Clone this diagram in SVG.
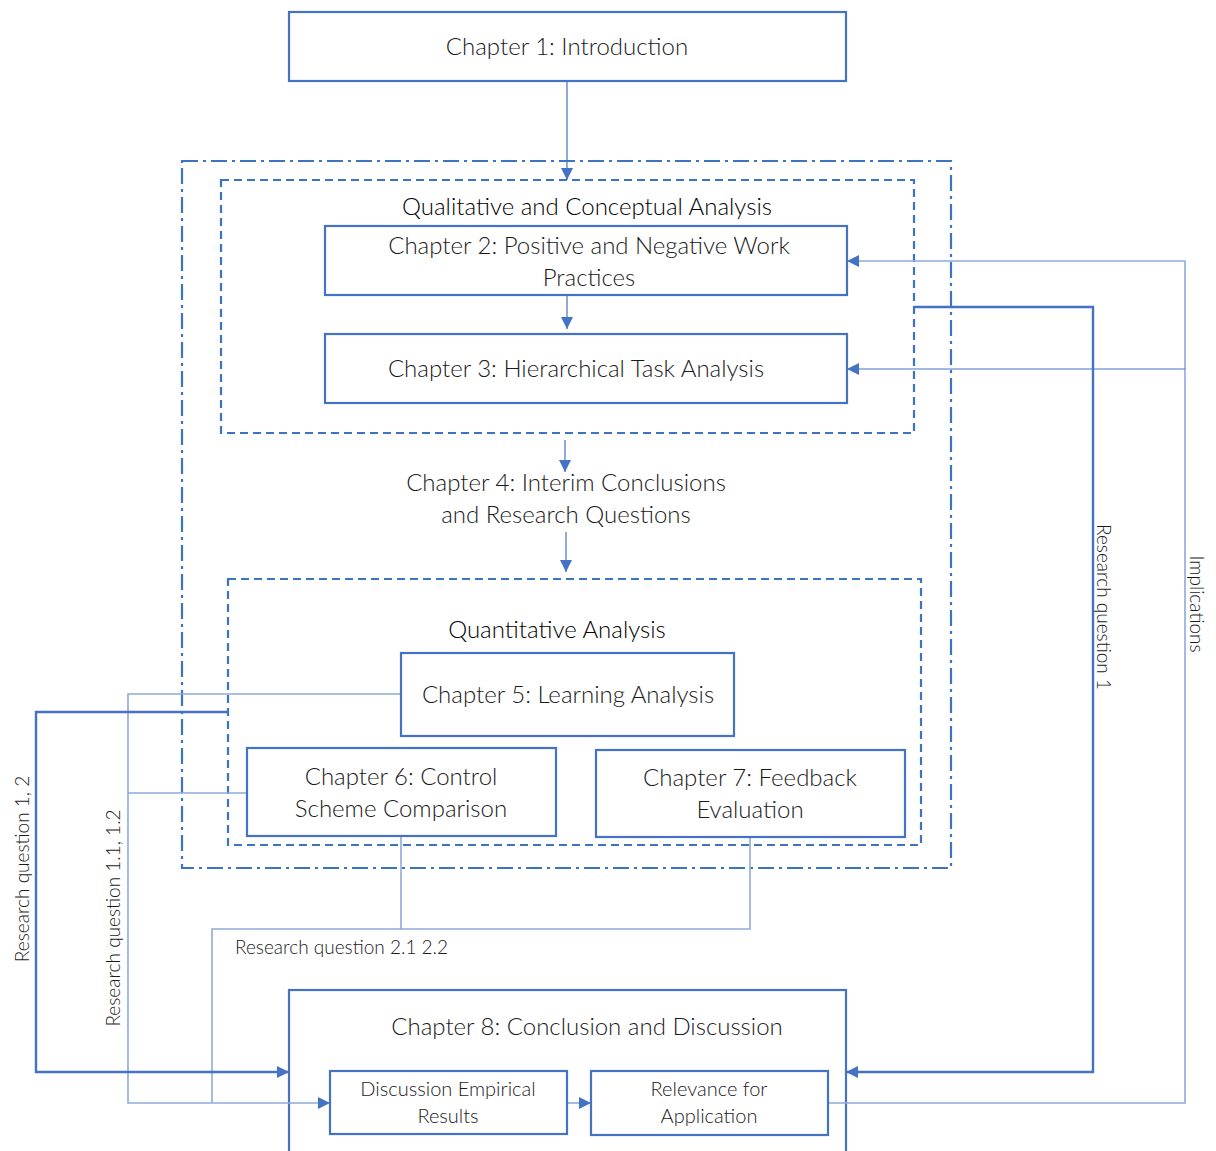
<svg xmlns="http://www.w3.org/2000/svg" width="1216" height="1151" viewBox="0 0 1216 1151">
  <style>
    .box { fill: #ffffff; stroke: #4472c4; stroke-width: 2.2; }
    .frame { fill: none; stroke: #4472c4; stroke-width: 2.2; }
    .dash { fill: none; stroke: #3d74c2; stroke-width: 2.2; stroke-dasharray: 8 5; }
    .dashdot { fill: none; stroke: #3d74c2; stroke-width: 2.2; stroke-dasharray: 16 5 3 5; }
    .t { font-family: Lato, "Open Sans", sans-serif; font-weight: 300; fill: #1a1a1a; text-anchor: middle; }
    .lg { font-size: 24px; }
    .sm { font-size: 20px; }
    .hd { font-size: 24px; fill: #000; }
    .lbl { font-family: Lato, "Open Sans", sans-serif; font-weight: 300; font-size: 19px; fill: #1a1a1a; }
    .thin { fill: none; stroke: #4472c4; stroke-width: 1.2; }
    .light { fill: none; stroke: #8eaadb; stroke-width: 1.6; }
    .thick { fill: none; stroke: #4472c4; stroke-width: 2.4; }
  </style>
  <defs>
    <marker id="ah" viewBox="0 0 10 10" refX="10" refY="5" markerUnits="userSpaceOnUse" markerWidth="13" markerHeight="12" orient="auto">
      <path d="M0,0 L10,5 L0,10 z" fill="#4472c4"/>
    </marker>
  </defs>

  <!-- grouping frames -->
  <rect id="frame-outer" class="dashdot" x="182" y="161" width="769" height="707"/>
  <rect id="frame-qualitative" class="dash" x="221" y="180" width="693" height="253"/>
  <rect id="frame-quantitative" class="dash" x="228" y="579" width="693" height="266"/>

  <!-- chapter 8 frame sits under the connectors that run into it -->
  <g id="ch8">
    <rect class="frame" x="289" y="990" width="557" height="175"/>
    <text class="t lg" x="587" y="1035">Chapter 8: Conclusion and Discussion</text>
  </g>

  <!-- connectors -->
  <g id="connectors">
    <line class="thin" x1="567" y1="81" x2="567" y2="180" marker-end="url(#ah)"/>
    <line class="thin" x1="567" y1="296" x2="567" y2="329" marker-end="url(#ah)"/>
    <line class="thin" x1="565" y1="440" x2="565" y2="472" marker-end="url(#ah)"/>
    <line class="thin" x1="566" y1="532" x2="566" y2="572" marker-end="url(#ah)"/>
    <!-- research question 1.1, 1.2 -->
    <polyline class="light" points="401,694 128,694 128,1103 330,1103" marker-end="url(#ah)"/>
    <line class="light" x1="247" y1="793" x2="128" y2="793"/>
    <!-- research question 2.1, 2.2 -->
    <polyline class="light" points="401,836 401,929 750,929 750,837"/>
    <polyline class="light" points="401,929 212,929 212,1103"/>
    <!-- research question 1, 2 -->
    <polyline class="thick" points="228,712 36,712 36,1072 289,1072" marker-end="url(#ah)"/>
    <!-- research question 1 -->
    <polyline class="thick" points="914,307 1093,307 1093,1072 846,1072" marker-end="url(#ah)"/>
    <!-- implications -->
    <polyline class="light" points="828,1103 1185,1103 1185,261 847,261" marker-end="url(#ah)"/>
    <line class="thin" x1="1185" y1="369" x2="847" y2="369" marker-end="url(#ah)"/>
    <line class="light" x1="567" y1="1103" x2="591" y2="1103" marker-end="url(#ah)"/>
  </g>

  <!-- nodes -->
  <g id="ch1">
    <rect class="box" x="289" y="12" width="557" height="69"/>
    <text class="t lg" x="567" y="55">Chapter 1: Introduction</text>
  </g>
  <g id="qualitative-title">
    <text class="t hd" x="587" y="215">Qualitative and Conceptual Analysis</text>
  </g>
  <g id="ch2">
    <rect class="box" x="325" y="226" width="522" height="69"/>
    <text class="t lg" x="589" y="254">Chapter 2: Positive and Negative Work</text>
    <text class="t lg" x="589" y="286">Practices</text>
  </g>
  <g id="ch3">
    <rect class="box" x="325" y="334" width="522" height="69"/>
    <text class="t lg" x="576" y="377">Chapter 3: Hierarchical Task Analysis</text>
  </g>
  <g id="ch4">
    <text class="t lg" x="566" y="491">Chapter 4: Interim Conclusions</text>
    <text class="t lg" x="566" y="523">and Research Questions</text>
  </g>
  <g id="quantitative-title">
    <text class="t hd" x="557" y="638">Quantitative Analysis</text>
  </g>
  <g id="ch5">
    <rect class="box" x="401" y="653" width="333" height="83"/>
    <text class="t lg" x="568" y="703">Chapter 5: Learning Analysis</text>
  </g>
  <g id="ch6">
    <rect class="box" x="247" y="748" width="309" height="88"/>
    <text class="t lg" x="401" y="785">Chapter 6: Control</text>
    <text class="t lg" x="401" y="817">Scheme Comparison</text>
  </g>
  <g id="ch7">
    <rect class="box" x="596" y="750" width="309" height="87"/>
    <text class="t lg" x="750" y="786">Chapter 7: Feedback</text>
    <text class="t lg" x="750" y="818">Evaluation</text>
  </g>
  <g id="discussion">
    <rect class="box" x="330" y="1071" width="237" height="63"/>
    <text class="t sm" x="448" y="1096">Discussion Empirical</text>
    <text class="t sm" x="448" y="1123">Results</text>
  </g>
  <g id="relevance">
    <rect class="box" x="591" y="1071" width="237" height="64"/>
    <text class="t sm" x="709" y="1096">Relevance for</text>
    <text class="t sm" x="709" y="1123">Application</text>
  </g>

  <!-- connector labels -->
  <g id="labels">
    <text class="lbl" x="235" y="954">Research question 2.1 2.2</text>
    <text class="lbl" text-anchor="middle" transform="translate(29,869) rotate(-90)">Research question 1, 2</text>
    <text class="lbl" text-anchor="middle" transform="translate(120,918) rotate(-90)">Research question 1.1, 1.2</text>
    <text class="lbl" text-anchor="middle" transform="translate(1097,607) rotate(90)">Research question 1</text>
    <text class="lbl" text-anchor="middle" transform="translate(1190,604) rotate(90)">Implications</text>
  </g>
</svg>
